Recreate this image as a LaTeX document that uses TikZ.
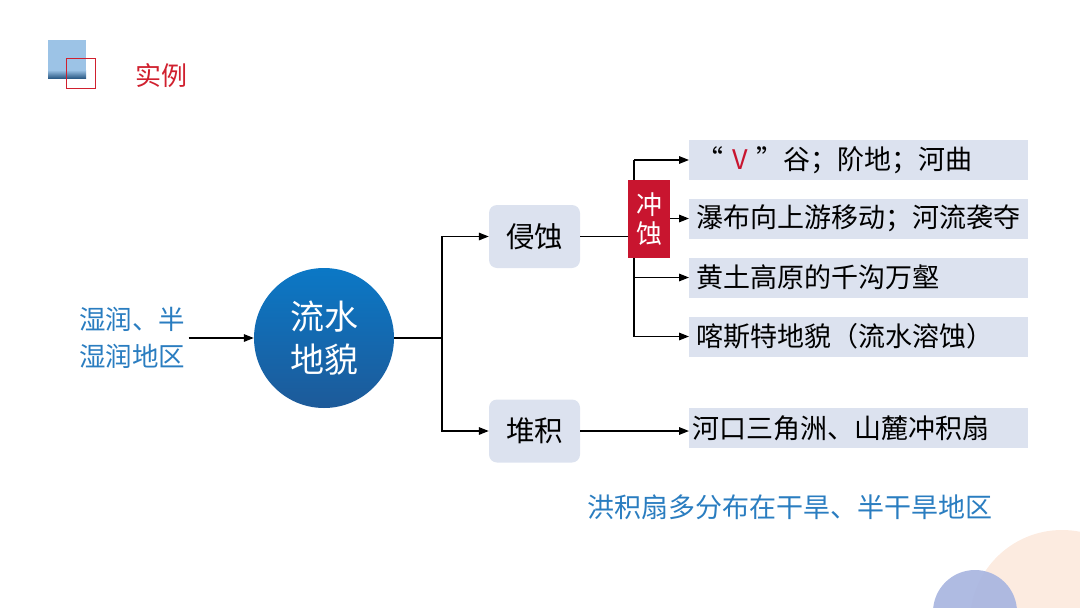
\documentclass[tikz,border=0pt]{standalone}
\usepackage{fontspec}
\setmainfont{Noto Sans CJK SC}
\usetikzlibrary{arrows.meta,positioning}
\definecolor{bluetextc}{HTML}{2A7DC0}
\definecolor{redc}{HTML}{C8152F}
\definecolor{titlec}{HTML}{D0202E}
\definecolor{itemc}{HTML}{DCE2EF}
\definecolor{circtopc}{HTML}{0B78C6}
\definecolor{circbotc}{HTML}{1D5A99}
\definecolor{logoc}{HTML}{9CC3E6}
\definecolor{logodarkc}{HTML}{2E5D88}
\definecolor{peachc}{HTML}{FCEBE0}
\definecolor{lavc}{HTML}{A8B5E0}
\tikzset{
  sidetext/.style={text=bluetextc, align=center, font=\fontsize{26.5}{37}\selectfont},
  mainnode/.style={circle, minimum size=140pt, inner sep=0pt, top color=circtopc,
    bottom color=circbotc, text=white, align=center, font=\fontsize{34}{43}\selectfont},
  catnode/.style={rectangle, rounded corners=8pt, fill=itemc, minimum width=91pt,
    minimum height=63pt, font=\fontsize{28.5}{32}\selectfont},
  rednode/.style={rectangle, fill=redc, text=white, minimum width=42pt, minimum height=78pt,
    inner sep=0pt, align=center, font=\fontsize{26}{29}\selectfont},
  itembox/.style={rectangle, fill=itemc, anchor=west, text width=325pt, inner xsep=7pt,
    minimum height=40pt, inner ysep=0pt, align=left, font=\fontsize{27}{30}\selectfont},
  link/.style={draw=black, line width=1.6pt},
  arrowlink/.style={link, -{Triangle[length=10pt, width=7.5pt]}},
}
\begin{document}
\begin{tikzpicture}[x=1pt, y=-1pt]
  \clip (0,0) rectangle (1080,608);
  % corner decoration
  \fill[peachc] (1062,622) circle (92);
  \fill[lavc, fill opacity=0.92] (975,612) circle (42);
  % logo
  \fill[logoc] (48,40) rectangle (86,78);
  \shade[top color=logoc, bottom color=logodarkc] (48,70) rectangle (86,78);
  \draw[titlec, line width=1pt] (66,58) rectangle (95,88);
  \node[text=titlec, font=\fontsize{26}{30}\selectfont] (title) at (161,76) {实例};

  \node[sidetext] (region) at (132,338) {湿润、半\\湿润地区};
  \node[mainnode] (main) at (324,338) {流水\\地貌};
  \node[catnode] (erode) at (534.5,236.5) {侵蚀};
  \node[catnode] (deposit) at (534.5,431) {堆积};
  \coordinate (split) at (442,338);
  \coordinate (ctop) at (634,160);
  \coordinate (cbot) at (634,336.5);

  \node[itembox] (i1) at (689,160) {“ {\color{redc}V} ”谷；阶地；河曲};
  \node[itembox] (i2) at (689,218.5) {瀑布向上游移动；河流袭夺};
  \node[itembox] (i3) at (689,277.5) {黄土高原的千沟万壑};
  \node[itembox] (i4) at (689,336.5) {喀斯特地貌（流水溶蚀）};
  \node[itembox, inner xsep=3pt, text width=333pt] (i5) at (689,428) {河口三角洲、山麓冲积扇};

  \draw[link] (ctop) -- (cbot);
  \node[rednode] (scour) at (649,219) {冲\\蚀};

  \draw[arrowlink] (region) -- (main);
  \draw[link] (main) -- (split);
  \draw[arrowlink] (split) |- (erode);
  \draw[arrowlink] (split) |- (deposit);
  \draw[link] (erode.east) -- (erode.east -| scour.west);
  \draw[arrowlink] (ctop) -- (i1.west);
  \draw[arrowlink] (scour.east |- i2.west) -- (i2.west);
  \draw[arrowlink] (cbot |- i3.west) -- (i3.west);
  \draw[arrowlink] (cbot) -- (i4.west);
  \draw[arrowlink] (deposit.east) -- (deposit.east -| i5.west);

  \node[text=bluetextc, font=\fontsize{27}{30}\selectfont] (note) at (790,507) {洪积扇多分布在干旱、半干旱地区};
\end{tikzpicture}
\end{document}
